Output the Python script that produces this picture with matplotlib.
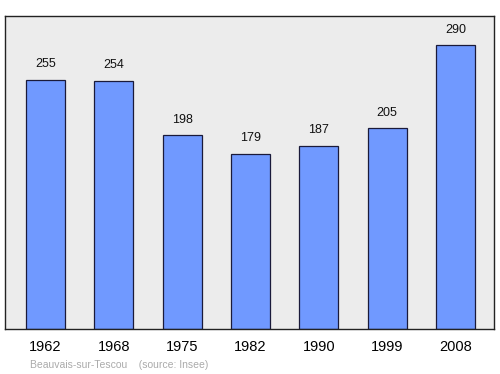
import matplotlib
matplotlib.use("Agg")
import matplotlib.pyplot as plt

# Population figures
years = ["1962", "1968", "1975", "1982", "1990", "1999", "2008"]
population = [255, 254, 198, 179, 187, 205, 290]
commune = "Beauvais-sur-Tescou"
source = "(source: Insee)"

plt.rcParams['font.family'] = ['Liberation Sans', 'DejaVu Sans']

fig = plt.figure(figsize=(5.0, 3.74), dpi=100)
ax = fig.add_axes([5 / 500, 1 - 329 / 374, 489 / 500, 313 / 374])
ax.set_facecolor("#ececec")

x = range(len(years))
ax.bar(x, population, width=0.57, color="#7099ff", edgecolor="#1a1a3a", linewidth=0.9)

for xi, v in zip(x, population):
    ax.text(xi, v + 10, str(v), ha="center", va="bottom", fontsize=9, color="#111111")

ax.set_xlim(-0.593, 6.564)
ax.set_ylim(0, 320)
ax.set_yticks([])
ax.set_xticks(list(x))
ax.set_xticklabels(years, fontsize=10.5)
ax.tick_params(axis="x", length=0, pad=8)
for s in ax.spines.values():
    s.set_color("#222222")
    s.set_linewidth(1.0)

fig.text(30 / 500, 1 - 365 / 374, commune + "    " + source, fontsize=7.5,
         color="#aaaaaa", ha="left", va="center")

fig.savefig("out.png", dpi=100)
